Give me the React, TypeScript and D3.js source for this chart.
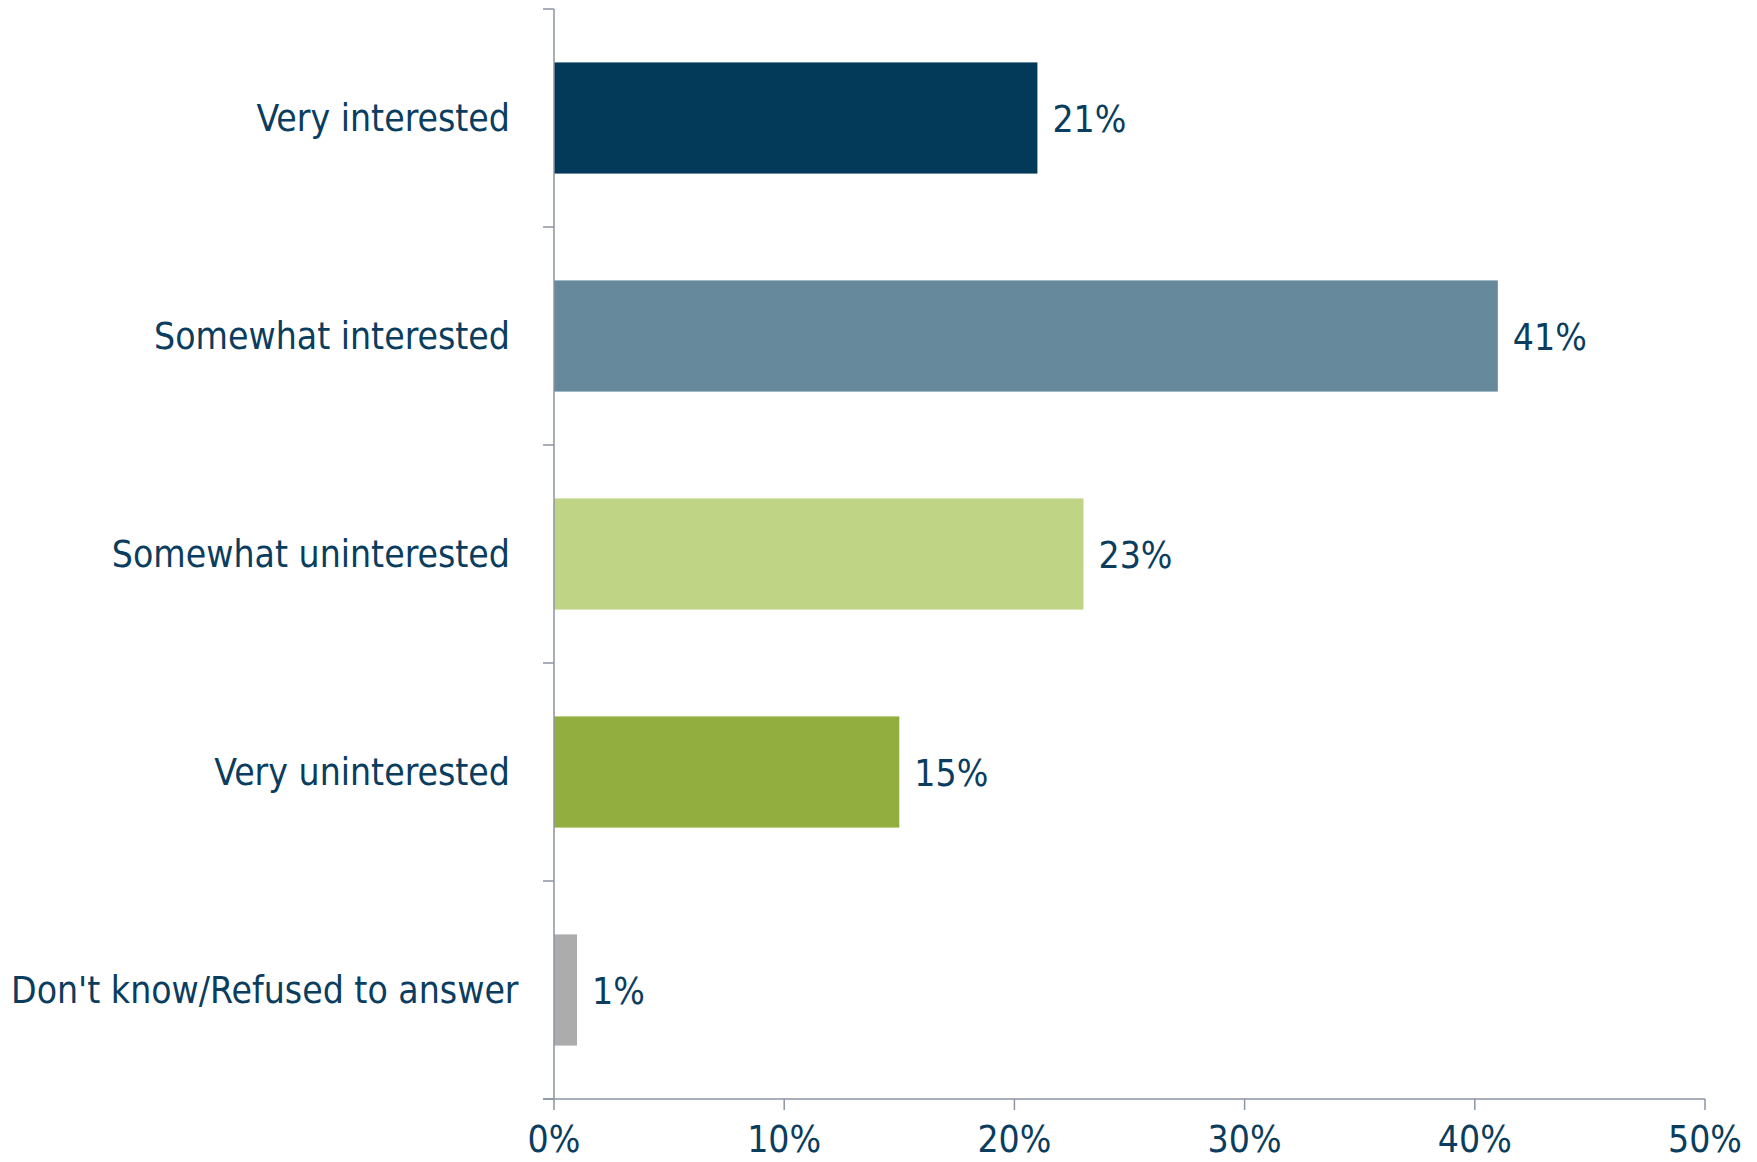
import * as d3 from "d3";
import { useLayoutEffect, useRef, useState } from "react";

// survey answers, top to bottom
const categories = [
  "Very interested",
  "Somewhat interested",
  "Somewhat uninterested",
  "Very uninterested",
  "Don't know/Refused to answer",
];

// share of respondents, in percent
const values = [21, 41, 23, 15, 1];

const barColors = ["#033a5a", "#67899c", "#c0d486", "#91ae3e", "#acacac"];

const xTicks = [0, 10, 20, 30, 40, 50];

const width = 1757;
const height = 1162;

const textColor = "#0a3d5e";
const axisColor = "#8c94a2";
const fontFamily = "'DejaVu Sans Condensed', 'DejaVu Sans', sans-serif";
const fontSize = 37;

const plotLeft = 554;
const plotRight = 1705;
const plotTop = 9;
const plotBottom = 1099;
const tickLen = 11;

// category labels end here, unless they are too long to fit
const labelRight = 510;
const labelMinLeft = 11;

export default function App() {
  const labelRefs = useRef<(SVGTextElement | null)[]>([]);
  const [labelWidths, setLabelWidths] = useState<number[]>([]);

  useLayoutEffect(() => {
    setLabelWidths(labelRefs.current.map((t) => (t ? t.getComputedTextLength() : 0)));
  }, []);

  const x = d3.scaleLinear([0, 50], [plotLeft, plotRight]);
  const y = d3
    .scaleBand(categories, [plotTop, plotBottom])
    .paddingInner(0.49)
    .paddingOuter(0.245);

  const step = y.step();
  // boundaries between the category bands, where the left ticks sit
  const bandEdges = d3.range(categories.length + 1).map((i) => plotTop + i * step);

  // long labels start at the left margin instead of ending at labelRight
  const labelEnd = (i: number) => {
    const w = labelWidths[i] ?? 0;
    return Math.max(labelRight, labelMinLeft + w);
  };

  return (
    <svg
      width={width}
      height={height}
      style={{ position: "absolute", left: 0, top: 0 }}
      fontFamily={fontFamily}
    >
      <rect width="100%" height="100%" fill="#fff" />

      {/* bars */}
      {categories.map((c, i) => (
        <rect
          key={c}
          x={x(0)}
          y={y(c)}
          width={x(values[i]) - x(0)}
          height={y.bandwidth()}
          fill={barColors[i]}
        />
      ))}

      {/* axes */}
      <g stroke={axisColor} strokeWidth={1.5} fill="none">
        <line x1={plotLeft} x2={plotLeft} y1={plotTop} y2={plotBottom} />
        <line x1={plotLeft - tickLen} x2={plotRight} y1={plotBottom} y2={plotBottom} />
        {bandEdges.map((e, i) => (
          <line key={i} x1={plotLeft - tickLen} x2={plotLeft} y1={e} y2={e} />
        ))}
        {xTicks.map((t) => (
          <line key={t} x1={x(t)} x2={x(t)} y1={plotBottom} y2={plotBottom + tickLen} />
        ))}
      </g>

      {/* category labels */}
      {categories.map((c, i) => (
        <text
          key={c}
          ref={(el) => {
            labelRefs.current[i] = el;
          }}
          x={labelEnd(i)}
          y={(y(c) ?? 0) + y.bandwidth() / 2 + 13}
          textAnchor="end"
          fontSize={fontSize}
          fill={textColor}
        >
          {c}
        </text>
      ))}

      {/* value labels */}
      {categories.map((c, i) => (
        <text
          key={c}
          x={x(values[i]) + 15}
          y={(y(c) ?? 0) + y.bandwidth() / 2 + 14}
          fontSize={fontSize}
          fill={textColor}
        >
          {values[i]}%
        </text>
      ))}

      {/* x tick labels */}
      {xTicks.map((t) => (
        <text
          key={t}
          x={x(t)}
          y={plotBottom + 53}
          textAnchor="middle"
          fontSize={fontSize}
          fill={textColor}
        >
          {t}%
        </text>
      ))}
    </svg>
  );
}
